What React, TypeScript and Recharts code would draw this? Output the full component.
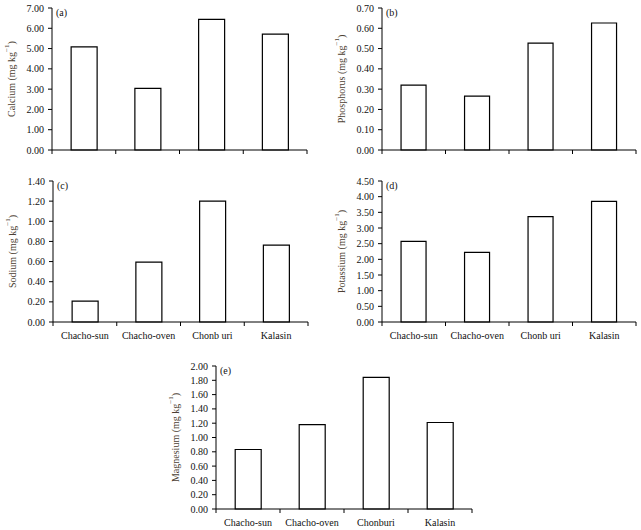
import React from "react";
import { BarChart, Bar, XAxis, YAxis } from "recharts";

// Sample origins (two spellings used in the source figure)
const origins = ["Chacho-sun", "Chacho-oven", "Chonb uri", "Kalasin"];
const originsE = ["Chacho-sun", "Chacho-oven", "Chonburi", "Kalasin"];

// Mineral content, mg kg-1
const calcium = [5.08, 3.04, 6.44, 5.71];
const phosphorus = [0.32, 0.266, 0.527, 0.626];
const sodium = [0.208, 0.594, 1.2, 0.763];
const potassium = [2.57, 2.22, 3.36, 3.85];
const magnesium = [0.832, 1.18, 1.84, 1.21];

const calciumTicks = [0, 1, 2, 3, 4, 5, 6, 7];
const phosphorusTicks = [0, 0.1, 0.2, 0.3, 0.4, 0.5, 0.6, 0.7];
const sodiumTicks = [0, 0.2, 0.4, 0.6, 0.8, 1.0, 1.2, 1.4];
const potassiumTicks = [0, 0.5, 1.0, 1.5, 2.0, 2.5, 3.0, 3.5, 4.0, 4.5];
const magnesiumTicks = [0, 0.2, 0.4, 0.6, 0.8, 1.0, 1.2, 1.4, 1.6, 1.8, 2.0];

const FONT = "'Liberation Serif', 'DejaVu Serif', serif";
const Y_W = 52;
const M_TOP = 8;
const M_RIGHT = 5;
const X_H = 22;

type PanelProps = {
  letter: string;
  name: string;
  cats: string[];
  values: number[];
  ticks: number[];
  showLabels: boolean;
  left: number;
  top: number;
  plotW: number;
  plotH: number;
};

function Panel({ letter, name, cats, values, ticks, showLabels, left, top, plotW, plotH }: PanelProps) {
  const rows = cats.map((c, i) => ({ cat: c, v: values[i] }));
  const band = plotW / cats.length;
  const width = Y_W + plotW + M_RIGHT;
  const height = M_TOP + plotH + X_H;

  // ticks sit on the category boundaries, labels in the middle
  const xTick = (props: any) => {
    const { x, y, payload, index } = props;
    const last = index === cats.length - 1;
    return (
      <g>
        <line x1={x - band / 2} x2={x - band / 2} y1={y} y2={y + 4} stroke="#000" strokeWidth={1} />
        {last && <line x1={x + band / 2} x2={x + band / 2} y1={y} y2={y + 4} stroke="#000" strokeWidth={1} />}
        {showLabels && (
          <text x={x} y={y + 17} textAnchor="middle" fontSize={10} fontFamily={FONT} fill="#111">
            {payload.value}
          </text>
        )}
      </g>
    );
  };

  const yLabel = (props: any) => {
    const vb = props.viewBox || { x: 0, y: 0, width: 0, height: 0 };
    const cx = vb.x + 11;
    const cy = vb.y + vb.height / 2;
    return (
      <text
        x={cx}
        y={cy}
        transform={`rotate(-90 ${cx} ${cy})`}
        textAnchor="middle"
        dominantBaseline="central"
        fontSize={10}
        fontFamily={FONT}
        fill="#4d3f33"
      >
        {name} (mg kg
        <tspan dy={-4} fontSize={7}>−1</tspan>
        <tspan dy={4}>)</tspan>
      </text>
    );
  };

  return (
    <div style={{ position: "absolute", left, top, width, height }}>
      <BarChart
        width={width}
        height={height}
        data={rows}
        margin={{ top: M_TOP, right: M_RIGHT, left: 0, bottom: 0 }}
        barCategoryGap="30%"
      >
        <XAxis
          dataKey="cat"
          height={X_H}
          interval={0}
          axisLine={{ stroke: "#000", strokeWidth: 1 }}
          tickLine={false}
          tickSize={0}
          tickMargin={0}
          tick={xTick}
        />
        <YAxis
          width={Y_W}
          domain={[ticks[0], ticks[ticks.length - 1]]}
          ticks={ticks}
          interval={0}
          tickFormatter={(v: number) => v.toFixed(2)}
          axisLine={{ stroke: "#000", strokeWidth: 1 }}
          tickLine={{ stroke: "#000", strokeWidth: 1 }}
          tickSize={4}
          tickMargin={4}
          tick={{ fontSize: 10, fontFamily: FONT, fill: "#111" }}
          label={yLabel}
        />
        <Bar dataKey="v" fill="#fff" stroke="#000" strokeWidth={1.2} isAnimationActive={false} />
      </BarChart>
      <div
        style={{
          position: "absolute",
          left: Y_W + 4,
          top: M_TOP - 1,
          fontSize: 10,
          fontFamily: FONT,
          color: "#111",
          lineHeight: "12px",
        }}
      >
        {letter}
      </div>
    </div>
  );
}

export default function App() {
  return (
    <div style={{ position: "absolute", left: 0, top: 0, width: 641, height: 530, background: "#fff", overflow: "hidden" }}>
      <Panel letter="(a)" name="Calcium" cats={origins} values={calcium} ticks={calciumTicks} showLabels={false}
        left={0} top={0} plotW={255} plotH={142} />
      <Panel letter="(b)" name="Phosphorus" cats={origins} values={phosphorus} ticks={phosphorusTicks} showLabels={false}
        left={330} top={0} plotW={254} plotH={142} />
      <Panel letter="(c)" name="Sodium" cats={origins} values={sodium} ticks={sodiumTicks} showLabels={true}
        left={1} top={173} plotW={255} plotH={141} />
      <Panel letter="(d)" name="Potassium" cats={origins} values={potassium} ticks={potassiumTicks} showLabels={true}
        left={330} top={173} plotW={254} plotH={141} />
      <Panel letter="(e)" name="Magnesium" cats={originsE} values={magnesium} ticks={magnesiumTicks} showLabels={true}
        left={164} top={358} plotW={256} plotH={143} />
    </div>
  );
}
